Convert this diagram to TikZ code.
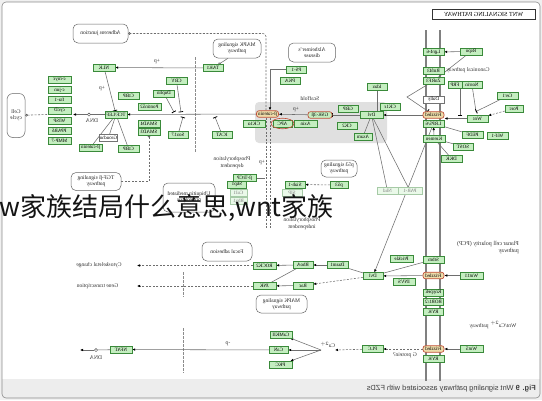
\documentclass[tikz,border=0pt]{standalone}
\usepackage{fontspec}
\setmainfont{Liberation Serif}
\newfontfamily\capfont{Liberation Sans}
\newfontfamily\cjkfont{Noto Sans CJK SC}
\usetikzlibrary{arrows.meta}
\pgfdeclarelayer{background}
\pgfsetlayers{background,main}
\definecolor{kf}{HTML}{C4EEC0}
\definecolor{kg}{HTML}{3A8A3A}
\definecolor{hlf}{HTML}{EEDCAA}
\definecolor{hlc}{HTML}{C0503A}
\definecolor{lnc}{HTML}{6E6E6E}
\newcommand\kbox{\fontsize{5}{5.5}\selectfont}
\newcommand\kpw{\fontsize{5.5}{6.2}\selectfont}
\newcommand\ktx{\fontsize{5.6}{6.3}\selectfont}
\begin{document}
\begin{tikzpicture}[x=1pt,y=-1pt,
  >={Latex[length=3pt,width=2.6pt,color=black]},
  M/.style={xscale=-1},
  kbx/.style={M,draw=kg,fill=kf,line width=0.45pt,inner sep=0pt,minimum height=6.6pt,font=\kbox,text=black},
  gb/.style={kbx,minimum width=#1},
  wb/.style={gb=#1,fill=white,draw=black!55},
  pb/.style={gb=#1,fill=kf!35,draw=kg!45,text=black!50},
  hb/.style={gb=#1,fill=hlf,draw=hlc,line width=0.7pt,rounded corners=2.5pt},
  rb/.style={gb=#1,draw=hlc,line width=0.7pt,rounded corners=2.5pt},
  pw/.style 2 args={M,draw=black!60,fill=white,rounded corners=5pt,line width=0.5pt,font=\kpw,align=center,inner sep=1pt,minimum width=#1,minimum height=#2,text=black!85},
  txt/.style={M,font=\ktx,align=center,inner sep=0.5pt,text=black!80},
  ln/.style={draw=lnc,line width=0.55pt},
  ar/.style={ln,->},
  inh/.style={ln,-{Bar[width=4.5pt,line width=0.8pt,color=black]}},
  da/.style={ln,dash pattern=on 2pt off 1.5pt},
  dnadot/.style={circle,draw=black!70,fill=white,inner sep=0pt,minimum size=3.2pt,line width=0.5pt},
  oc/.style={-{Circle[open,length=2.6pt,width=2.6pt,color=black!70]}},
]
\useasboundingbox (0,0) rectangle (542,400);

% ---------- title
\node[M,draw=black!80,fill=white,line width=0.6pt,minimum width=103pt,minimum height=10pt,inner sep=0pt,font=\fontsize{6.2}{7}\selectfont] (ttl) at (483.5,14) {WNT SIGNALING PATHWAY};

% ---------- pathway boxes
\node[pw={55pt}{19pt}] (aj) at (100.5,33.5) {Adherens junction};
\node[pw={18pt}{44pt},rounded corners=6pt] (cc) at (16,115.5) {Cell\\cycle};
\node[pw={48pt}{19pt}] (mapka) at (237,48.5) {MAPK signaling\\pathway};
\node[pw={47pt}{19pt}] (alz) at (312,52.5) {Alzheimer's\\disease};
\node[pw={50pt}{18pt}] (tgf) at (96,181.5) {TGF-β signaling\\pathway};
\node[pw={52pt}{29pt}] (ubq) at (189,197.5) {Ubiquitin mediated\\proteolysis};
\node[pw={36pt}{17pt}] (p53p) at (339,168.5) {p53 signaling\\pathway};
\node[pw={50pt}{19pt}] (focal) at (227,251.5) {Focal adhesion};
\node[pw={51pt}{18pt}] (mapkb) at (281.5,304) {MAPK signaling\\pathway};

% ---------- target genes
\node[gb=23pt] (g1) at (59.5,80) {c-myc};
\node[gb=23pt] (g2) at (59.5,90) {c-jun};
\node[gb=23pt] (g3) at (59.5,100) {fra-1};
\node[gb=23pt] (g4) at (59.5,110.5) {cycD};
\node[gb=23pt] (g5) at (59.5,121) {WISP};
\node[gb=23pt] (g6) at (59.5,131) {PPARδ};
\node[gb=23pt] (g7) at (59.5,141) {MMP-7};

% ---------- nucleus
\node[gb=22pt] (nlk) at (104,67.5) {NLK};
\node[gb=20pt] (tak1) at (213,68) {TAK1};
\node[gb=22pt] (tcf) at (116,114.5) {TCF/LEF};
\node[gb=21pt] (ctbpa) at (128.5,95.5) {CtBP};
\node[gb=23pt] (pont) at (149.5,107) {Pontin52};
\node[gb=21pt] (duplin) at (164,93.5) {Duplin};
\node[gb=21pt] (cby) at (176.5,81) {CBY};
\node[wb=18pt] (grou) at (108.5,137.5) {Groucho};
\node[gb=23pt] (bcatb) at (90.5,147.5) {β-catenin};
\node[gb=21pt] (ctbpb) at (128.5,148.5) {CtBP};
\node[gb=22pt] (smad4) at (149,124) {SMAD4};
\node[gb=22pt] (smad3) at (149,131.5) {SMAD3};
\node[gb=20pt] (sox) at (178,134.5) {Sox17};
\node[gb=20pt] (icat) at (222,134.5) {ICAT};
\node[dnadot] (dnaA) at (89,114.5) {};

% ---------- cytoplasm
\node[hb=22pt] (bcat) at (267.5,114) {β-catenin};
\node[gb=22pt] (ck1a) at (254,123.5) {CK1α};
\node[gb=19pt] (apc) at (282.5,123.5) {APC};
\node[gb=23pt] (axin) at (305.5,123.5) {Axin};
\node[rb=24pt] (gsk) at (320,115) {GSK-3β};
\node[gb=20pt] (gbp) at (348,108.5) {GBP};
\node[gb=20pt] (ck2) at (347,126) {CK2};
\node[gb=23pt] (dvl) at (371.5,115) {Dvl};
\node[gb=20pt] (ck1e) at (390,107) {CK1ε};
\node[gb=20pt] (idax) at (377,87) {Idax};
\node[gb=18pt] (axam) at (363,136.5) {Axam};
\node[gb=20pt] (ps1) at (296.5,69.5) {PS-1};
\node[gb=20pt] (pka) at (290,80.5) {PKA};

% ---------- membrane (canonical)
\node[gb=21pt] (lgr) at (433.5,52) {Lgr4-6};
\node[gb=22pt] (rspo) at (471,51.5) {Rspo};
\node[gb=21pt] (rnf) at (433.5,70.5) {Rnf43};
\node[gb=21pt] (znrf) at (433.5,81) {ZnRF3};
\node[wb=21pt] (dally) at (433.5,99.5) {Dally};
\node[hb=21pt] (fz) at (433.5,115) {Frizzled};
\node[gb=21pt] (lrp) at (433.5,123.5) {LRP5/6};
\node[gb=22pt] (krem) at (434,138.5) {Kremen};
\node[gb=14pt] (frp) at (455,85) {FRP};
\node[gb=20pt] (norrin) at (472,85) {Norrin};
\node[gb=21pt] (cer) at (507.5,96) {Cer1};
\node[gb=18pt] (porc) at (514,108.5) {Porc};
\node[gb=21pt] (wnt) at (477.5,118.5) {Wnt};
\node[gb=21pt] (pedf) at (472.5,135) {PEDF};
\node[gb=21pt] (wif) at (497.5,135.5) {Wif-1};
\node[gb=20pt] (sost) at (463,146.5) {SOST};
\node[gb=21pt] (dkk) at (451.5,158.5) {DKK};

% ---------- degradation
\node[gb=23pt] (btrcp) at (244.5,178) {β-TrCP};
\node[gb=19pt] (skp1) at (237,184.5) {Skp1};
\node[pb=17pt] (cul1) at (238.5,193) {Cul1};
\node[pb=17pt] (rbx1) at (238.5,201) {Rbx1};
\node[gb=20pt] (siah) at (295,184.5) {Siah-1};
\node[gb=18pt] (p53) at (339,185) {p53};
\node[pb=20pt] (sip) at (292,193) {SIP};
\node[pb=21pt] (nkd) at (387.5,191) {Nkd};
\node[pb=24pt] (par1) at (410,191) {PAR-1};

% ---------- PCP
\node[gb=21pt] (stbm) at (433.5,259.5) {Stbm};
\node[gb=23pt] (prick) at (401.5,258.5) {Prickle};
\node[gb=20pt] (dvlp) at (373,276) {Dvl};
\node[gb=22pt] (invs) at (404,282) {INVS};
\node[hb=21pt] (fzp) at (433.5,275.5) {Frizzled};
\node[gb=23pt] (wnt11) at (471.5,275.5) {Wnt11};
\node[gb=20pt] (knyp) at (433.5,292.5) {Knypek};
\node[gb=20pt] (ror) at (433.5,302) {ROR1/2};
\node[gb=20pt] (ryka) at (433.5,312) {RYK};
\node[gb=23pt] (rock) at (264.5,265.5) {ROCK2};
\node[gb=20pt] (rhoa) at (303,265) {RhoA};
\node[gb=21pt] (daam) at (337.5,265) {Daam1};
\node[gb=20pt] (rac) at (303,285.5) {Rac};
\node[gb=23pt] (jnk) at (264.5,286) {JNK};

% ---------- Wnt/Ca2+
\node[hb=21pt] (fzc) at (433.5,349) {Frizzled};
\node[gb=23pt] (wnt5) at (471.5,349) {Wnt5};
\node[gb=21pt] (rykb) at (433.5,359) {RYK};
\node[gb=21pt] (plc) at (372.5,349) {PLC};
\node[gb=22pt] (camk) at (281,334.5) {CaMKII};
\node[gb=19pt] (can) at (278.5,350) {CaN};
\node[gb=23pt] (pkc) at (280.5,364.5) {PKC};
\node[gb=22pt] (nfat) at (121,349.5) {NFAT};
\node[dnadot] (dnaB) at (96,350) {};

% ---------- free texts
\node[txt] at (92,121) {DNA};
\node[txt] at (96,357.5) {DNA};
\node[txt] at (157,62) {+p};
\node[txt] at (102,89) {+p};
\node[txt] at (296,110) {+p};
\node[txt] at (262,163) {+p};
\node[txt] at (228,344) {-p};
\node[txt] at (310,98.5) {Scaffold};
\node[txt] at (232,162.5) {Phosphorylation\\dependent};
\node[txt] at (302,223.5) {Phosphorylation\\independent};
\node[txt] at (468,70) {Canonical pathway};
\node[txt,align=left,font=\fontsize{6}{7}\selectfont] at (488,248) {Planar cell polarity (PCP)\\pathway};
\node[txt] at (493,325) {Wnt/Ca$^{2+}$ pathway};
\node[txt] at (405,355.5) {G protein?};
\node[txt] at (327.5,345) {Ca$^{2+}$};
\node[txt] at (99,265.5) {Cytoskeletal change};
\node[txt] at (97.5,286) {Gene transcription};

% ---------- free ends
\coordinate (m1) at (174,112.2);
\coordinate (m2) at (181,112.2);
\coordinate (m3) at (183,117);
\coordinate (m4) at (215,117);
\coordinate (gR) at (73,114.5);
\coordinate (gL) at (47,114.5);
\coordinate (bt) at (265,178);
\coordinate (wj) at (476,111.5);
\coordinate (fzR) at (444.5,118.5);
\coordinate (cyR) at (137,265.5);
\coordinate (geR) at (137,286);
\coordinate (caR) at (335,350);
\coordinate (caJ) at (321,350);
\coordinate (dnaL) at (80,350);
\coordinate (zk) at (407,97);

\begin{pgfonlayer}{background}
  \fill[black!6] (0,0) rectangle (542,400);
  \fill[white,rounded corners=4pt] (2,2) rectangle (540,398);
  \begin{scope}
    \clip[rounded corners=4pt] (2,2) rectangle (540,398);
    \fill[black!7] (2,379) rectangle (540,398);
  \end{scope}
  \fill[black!12,rounded corners=4pt] (255,102) rectangle (387,143);
  \draw[black!50,line width=1.5pt] (426,30) -- (426,381);
  \draw[black!50,line width=1.5pt] (440,30) -- (440,381);
  % nuclear envelope
  \draw[black!45,line width=0.9pt,dash pattern=on 2.5pt off 1.5pt] (195.5,57) -- (195.5,152);
  \draw[black!45,line width=0.9pt,dash pattern=on 2.5pt off 1.5pt] (183,272) -- (183,297);
  \draw[black!45,line width=0.9pt,dash pattern=on 2.5pt off 1.5pt] (183,328) -- (183,373);

  % nucleus connectors
  \draw[ar] (tak1) -- (nlk);
  \draw[ln,oc] ([xshift=-9pt]mapka.south) -- (tak1);
  \draw[inh] (nlk) -- (tcf);
  \draw[ar] (bcat) -- (tcf);
  \draw[ln] (tcf) -- (dnaA);
  \draw[ar] (dnaA) -- (gR);
  \draw[da,oc] (gL) -- (cc);
  \draw[ln] (tcf) -- (grou);
  \draw[ln] (tcf) -- (bcatb);
  \draw[ln] (tcf) -- (ctbpb);
  \draw[inh] (duplin) -- (m1);
  \draw[inh] (cby) -- (m2);
  \draw[inh] (sox) -- (m3);
  \draw[inh] (icat) -- (m4);
  \draw[da,{Circle[open,length=2.4pt,width=2.4pt,color=black!70]}-] (smad3.south) |- (tgf);

  % cytoplasm connectors
  \draw[da,rounded corners=3pt,oc] ([xshift=-1.5pt]bcat.north) |- (aj);
  \draw[ar] (ps1) -| ([xshift=2.5pt]bcat.north);
  \draw[da] ([xshift=-1.5pt]bcat.south) -- ++(0,110);
  \draw[da] ([xshift=2.5pt]bcat.south) -- ++(0,110);
  \draw[ln] (btrcp) -- (bt);
  \draw[ar] (gsk) -- (bcat);
  \draw[inh] (dvl) -- (gsk);
  \draw[ar] (fz) -- (dvl);
  \draw[inh] (idax.south) -- (idax.south |- dvl.north);
  \draw[ln] (dvl) -- (axam);
  \draw[ln] (dvl) -- (nkd);
  \draw[ln] (dvl) -- (par1);
  \draw[ar] (lrp) -- (dvlp);
  \draw[da,->] (p53) -- (siah);

  % receptor connectors
  \draw[ar] (rspo) -- (lgr);
  \draw[ln] (rspo) -- (znrf);
  \draw[inh] (znrf) -- (zk) -- (fz);
  \draw[inh] ([xshift=5pt]frp.south) -- ++(0,27.5);
  \draw[ln] (norrin) -- (wj);
  \draw[inh] (cer) -- (wj);
  \draw[da,->] (porc) -- (wnt);
  \draw[ar] (wnt) -- (fzR);
  \draw[ar] (krem) -- (lrp);
  \draw[ln] (lrp) -- (pedf);
  \draw[ln] (krem) -- (sost);
  \draw[ln] (krem) -- (dkk);

  % PCP connectors
  \draw[ar] (wnt11) -- (fzp);
  \draw[ar] (fzp) -- (dvlp);
  \draw[ln] (stbm) -- (dvlp);
  \draw[ln] (dvlp) -- (daam);
  \draw[ar] (daam) -- (rhoa);
  \draw[ar] (rhoa) -- (rock);
  \draw[ln] (rhoa) -- (jnk);
  \draw[da,->] (dvlp) -- (rac);
  \draw[ar] (rac) -- (jnk);
  \draw[da,->] (rock) -- (cyR);
  \draw[da,->] (jnk) -- (geR);

  % Ca connectors
  \draw[ar] (wnt5) -- (fzc);
  \draw[da,->] (fzc) -- (plc);
  \draw[da,->] (plc) -- (caR);
  \draw[ar] (caJ) -- (camk);
  \draw[ar] (caJ) -- (can);
  \draw[ar] (caJ) -- (pkc);
  \draw[ar] (can) -- (nfat);
  \draw[ln] (nfat) -- (dnaB);
  \draw[ar] (dnaB) -- (dnaL);
\end{pgfonlayer}

\draw[hlc,line width=0.6pt] (apc.center) ellipse [x radius=11.5pt, y radius=5.3pt];

% frame and caption
\draw[black!45,line width=0.6pt,rounded corners=4pt] (2,2) rectangle (540,398);
\node[M,anchor=west,inner sep=0pt,font=\capfont\fontsize{7.4}{8}\selectfont,text=black!75] (cap) at (536,388.5) {\textbf{Fig. 9} Wnt signaling pathway associated with FZDs};

% overlay text
\node[anchor=base west,inner sep=0pt,font=\cjkfont\fontsize{26}{28}\selectfont,text=black!92] (cn) at (-0.5,216) {w家族结局什么意思,wnt家族};
\end{tikzpicture}
\end{document}
